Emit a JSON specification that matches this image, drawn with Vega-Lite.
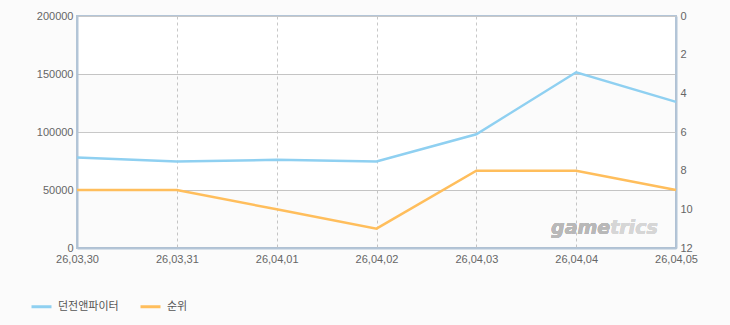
{
  "$schema": "https://vega.github.io/schema/vega-lite/v6.json",
  "width": 599,
  "height": 232,
  "autosize": "none",
  "padding": {"left": 77, "top": 16, "right": 54, "bottom": 77},
  "background": "#fbfbfb",
  "config": {
    "view": {"fill": "#ffffff", "stroke": "#b3c5d7", "strokeWidth": 2},
    "font": "Liberation Sans",
    "axis": {"labelColor": "#666666", "labelFontSize": 11, "labelFont": "Liberation Sans", "ticks": false, "domainColor": "#b3c5d7", "domainWidth": 2, "title": null}
  },
  "data": {
    "values": [
      {"date": "26,03,30", "visitors": 78000, "rank": 9},
      {"date": "26,03,31", "visitors": 74500, "rank": 9},
      {"date": "26,04,01", "visitors": 76000, "rank": 10},
      {"date": "26,04,02", "visitors": 74500, "rank": 11},
      {"date": "26,04,03", "visitors": 98000, "rank": 8},
      {"date": "26,04,04", "visitors": 151500, "rank": 8},
      {"date": "26,04,05", "visitors": 126000, "rank": 9}
    ]
  },
  "encoding": {
    "x": {
      "field": "date",
      "type": "ordinal",
      "scale": {"type": "point", "padding": 0},
      "axis": {"labelAngle": 0, "grid": true, "gridColor": "#c8c8c8", "gridDash": [3, 3], "labelPadding": 5}
    }
  },
  "layer": [
    {
      "layer": [
        {
          "data": {"values": [{"lo": 100000, "hi": 150000}, {"lo": 0, "hi": 50000}]},
          "mark": {"type": "rect", "color": "#000000", "opacity": 0.014},
          "encoding": {
            "x": null,
            "y": {
              "field": "lo",
              "type": "quantitative",
              "scale": {"domain": [0, 200000]},
              "axis": {"orient": "left", "values": [0, 50000, 100000, 150000, 200000], "format": "d", "grid": true, "gridColor": "#c8c8c8", "labelPadding": 4}
            },
            "y2": {"field": "hi"}
          }
        },
        {
          "mark": {"type": "line", "strokeWidth": 2.5, "interpolate": "linear"},
          "encoding": {
            "y": {
              "field": "visitors",
              "type": "quantitative",
              "scale": {"domain": [0, 200000]},
              "axis": {"orient": "left", "values": [0, 50000, 100000, 150000, 200000], "format": "d", "grid": true, "gridColor": "#c8c8c8", "labelPadding": 4}
            },
            "color": {
              "datum": "던전앤파이터",
              "scale": {"domain": ["던전앤파이터", "순위"], "range": ["#8fd0f1", "#ffbe5c"]},
              "legend": {
                "orient": "none",
                "legendX": -47,
                "legendY": 279,
                "direction": "horizontal",
                "title": null,
                "symbolType": "stroke",
                "symbolStrokeWidth": 3,
                "symbolSize": 400,
                "labelFontSize": 11,
                "labelFont": "Noto Sans CJK KR",
                "labelColor": "#555555",
                "columnPadding": 15,
                "labelOffset": 5
              }
            }
          }
        },
        {
          "mark": {"type": "text", "text": "game", "align": "right", "dx": 34, "font": "DejaVu Sans", "fontWeight": "bold", "fontStyle": "italic", "fontSize": 19, "color": "#b8b8b8"},
          "encoding": {"x": {"datum": "26,04,04"}, "y": {"datum": 17000}}
        },
        {
          "mark": {"type": "text", "text": "trics", "align": "left", "dx": 34, "font": "DejaVu Sans", "fontWeight": "bold", "fontStyle": "italic", "fontSize": 19, "color": "#d6d6d6"},
          "encoding": {"x": {"datum": "26,04,04"}, "y": {"datum": 17000}}
        }
      ]
    },
    {
      "mark": {"type": "line", "strokeWidth": 2.5, "interpolate": "linear"},
      "encoding": {
        "y": {
          "field": "rank",
          "type": "quantitative",
          "scale": {"domain": [0, 12], "reverse": true},
          "axis": {"orient": "right", "values": [0, 2, 4, 6, 8, 10, 12], "grid": false, "labelPadding": 4}
        },
        "color": {"datum": "순위"}
      }
    }
  ],
  "resolve": {"scale": {"y": "independent"}}
}
